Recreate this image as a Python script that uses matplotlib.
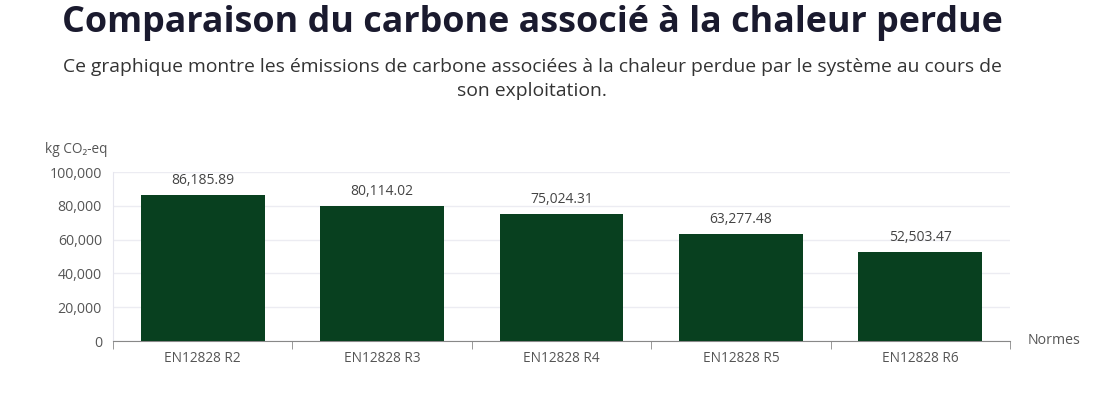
import matplotlib.pyplot as plt
from matplotlib.ticker import FuncFormatter

# data
categories = ["EN12828 R2", "EN12828 R3", "EN12828 R4", "EN12828 R5", "EN12828 R6"]
values = [86185.89, 80114.02, 75024.31, 63277.48, 52503.47]
yticks = [0, 20000, 40000, 60000, 80000, 100000]

plt.rcParams['font.family'] = ['Open Sans', 'DejaVu Sans']

fig = plt.figure(figsize=(10.96, 4.03), dpi=100)
ax = fig.add_axes([0.1031, 0.1538, 0.8184, 0.4194])

x = range(len(categories))
bars = ax.bar(x, values, width=0.69, color='#08401f', zorder=3)

for i, v in enumerate(values):
    ax.annotate(f"{v:,.2f}", (i, v), xytext=(0, 5), textcoords='offset points',
                ha='center', va='bottom', fontsize=10, color='#444444')

ax.set_xlim(-0.5, len(categories) - 0.5)
ax.set_ylim(0, 100000)
ax.set_yticks(yticks)
ax.yaxis.set_major_formatter(FuncFormatter(lambda v, p: f"{int(v):,}"))
ax.set_xticks(list(x))
ax.set_xticklabels(categories)
ax.set_xticks([i - 0.5 for i in range(len(categories) + 1)], minor=True)
ax.tick_params(axis='x', which='major', length=0, pad=7, labelsize=9.8, labelcolor='#555555')
ax.tick_params(axis='x', which='minor', length=6, color='#888888')
ax.tick_params(axis='y', length=0, pad=8, labelsize=10.2, labelcolor='#555555')

ax.grid(axis='y', color='#ececf2', lw=1, zorder=0)
for s in ['top', 'right']:
    ax.spines[s].set_visible(False)
ax.spines['left'].set_color('#e6e6ee')
ax.spines['bottom'].set_color('#888888')

fig.text(45 / 1096, 1 - 150 / 403, "kg CO₂-eq", fontsize=9.8, color='#555555', va='center')
fig.text(1028 / 1096, 1 - 341 / 403, "Normes", fontsize=10.2, color='#555555', va='center')

cx = 532 / 1096
fig.text(cx, 1 - 23 / 403, "Comparaison du carbone associé à la chaleur perdue",
         ha='center', va='center', fontsize=25.8, fontweight='bold', color='#1a1a2e')
fig.text(cx, 1 - 79 / 403,
         "Ce graphique montre les émissions de carbone associées à la chaleur perdue par le système au cours de\nson exploitation.",
         ha='center', va='center', fontsize=13.9, color='#333333', linespacing=1.5)

fig.savefig("out.png", dpi=100)
